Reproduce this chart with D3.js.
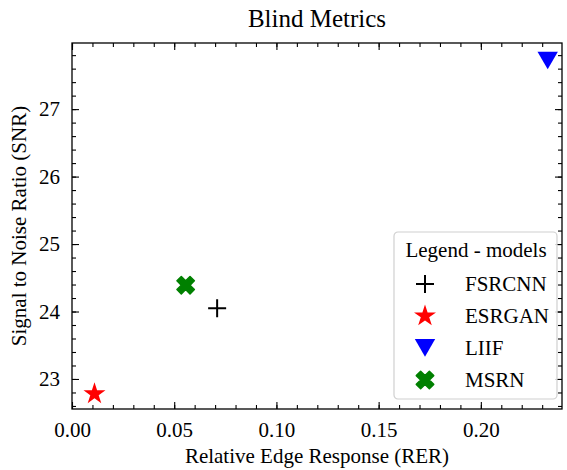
<!DOCTYPE html>
<html>
<head>
<meta charset="utf-8">
<script src="https://cdn.jsdelivr.net/npm/d3@7"></script>
<style>
  body { margin: 0; background: #fff; }
  text { font-family: "Liberation Serif", "Times New Roman", serif; fill: #000; }
</style>
</head>
<body>
<div id="chart"></div>
<script>
// data
const models = ["FSRCNN", "ESRGAN", "LIIF", "MSRN"];
const rer = [0.071, 0.011, 0.2327, 0.0556];
const snr = [24.05, 22.78, 27.72, 24.39];
const xTicks = [0.00, 0.05, 0.10, 0.15, 0.20];
const yTicks = [23, 24, 25, 26, 27];

const colors = {FSRCNN: "#000", ESRGAN: "red", LIIF: "blue", MSRN: "green"};

var width = 567, height = 470;
var margin = {top: 43, right: 5, bottom: 61, left: 72};
var w = width - margin.left - margin.right,
    h = height - margin.top - margin.bottom;

var svg = d3.select("#chart").append("svg")
  .attr("width", width).attr("height", height);

var g = svg.append("g")
  .attr("transform", "translate(" + margin.left + "," + margin.top + ")");

var x = d3.scaleLinear().domain([0, 0.2397]).range([0, w]);
var y = d3.scaleLinear().domain([22.555, 27.98]).range([h, 0]);

var xMinor = d3.range(0, 0.24, 0.01).map(v => +v.toFixed(2));
var yMinor = d3.range(22.6, 28.0, 0.2).map(v => +v.toFixed(1));

function tickStyle(sel) {
  sel.select(".domain").remove();
  sel.selectAll("line").attr("stroke", "#000").attr("stroke-width", 1.1);
}

// bottom
g.append("g").attr("transform", "translate(0," + h + ")")
  .call(d3.axisBottom(x).tickValues(xMinor).tickSize(-4).tickFormat(""))
  .call(tickStyle);
g.append("g").attr("transform", "translate(0," + h + ")")
  .call(d3.axisBottom(x).tickValues(xTicks).tickSize(-7).tickPadding(13).tickFormat(d3.format(".2f")))
  .call(tickStyle)
  .selectAll("text").style("font-size", "21px").attr("dy", "0.71em");
// top
g.append("g").call(d3.axisTop(x).tickValues(xMinor).tickSize(-4).tickFormat("")).call(tickStyle);
g.append("g").call(d3.axisTop(x).tickValues(xTicks).tickSize(-7).tickFormat("")).call(tickStyle);
// left
g.append("g").call(d3.axisLeft(y).tickValues(yMinor).tickSize(-4).tickFormat("")).call(tickStyle);
g.append("g")
  .call(d3.axisLeft(y).tickValues(yTicks).tickSize(-7).tickPadding(12).tickFormat(d3.format("d")))
  .call(tickStyle)
  .selectAll("text").style("font-size", "21px");
// right
g.append("g").attr("transform", "translate(" + w + ",0)")
  .call(d3.axisRight(y).tickValues(yMinor).tickSize(-4).tickFormat("")).call(tickStyle);
g.append("g").attr("transform", "translate(" + w + ",0)")
  .call(d3.axisRight(y).tickValues(yTicks).tickSize(-7).tickFormat("")).call(tickStyle);

// frame
g.append("rect").attr("width", w).attr("height", h)
  .attr("fill", "none").attr("stroke", "#000").attr("stroke-width", 1.3);

// marker shapes
function marker(sel, name) {
  var c = colors[name];
  if (name == "FSRCNN") {
    sel.append("path").attr("d", "M-9,0H9M0,-9V9")
      .attr("stroke", c).attr("stroke-width", 2).attr("fill", "none");
  } else if (name == "ESRGAN") {
    sel.append("path").attr("d", d3.symbol(d3.symbolStar, 150)()).attr("fill", c);
  } else if (name == "LIIF") {
    sel.append("path").attr("d", d3.symbol(d3.symbolTriangle, 180)())
      .attr("transform", "rotate(180) translate(0,3)").attr("fill", c);
  } else {
    sel.append("path").attr("d", d3.symbol(d3.symbolCross, 190)())
      .attr("transform", "rotate(45)").attr("fill", c)
      .attr("stroke", c).attr("stroke-width", 1.5).attr("stroke-linejoin", "round");
  }
}

models.forEach(function(m, i) {
  var p = g.append("g").attr("transform", "translate(" + x(rer[i]) + "," + y(snr[i]) + ")");
  marker(p, m);
});

// title and labels
svg.append("text").attr("x", margin.left + w / 2).attr("y", 27)
  .attr("text-anchor", "middle").style("font-size", "25px").text("Blind Metrics");
svg.append("text").attr("x", margin.left + w / 2).attr("y", 463)
  .attr("text-anchor", "middle").style("font-size", "21px").text("Relative Edge Response (RER)");
svg.append("text").attr("transform", "translate(26," + (margin.top + h / 2) + ") rotate(-90)")
  .attr("text-anchor", "middle").style("font-size", "21px").text("Signal to Noise Ratio (SNR)");

// legend
var lg = svg.append("g").attr("transform", "translate(394,232)");
lg.append("rect").attr("width", 163).attr("height", 167).attr("rx", 4)
  .attr("fill", "#fff").attr("fill-opacity", 0.85).attr("stroke", "#d0d0d0").attr("stroke-width", 1.2);
lg.append("text").attr("x", 82).attr("y", 25).attr("text-anchor", "middle")
  .style("font-size", "21px").text("Legend - models");
models.forEach(function(m, i) {
  var row = lg.append("g").attr("transform", "translate(31," + (52 + i * 32) + ")");
  marker(row, m);
  row.append("text").attr("x", 40).attr("dy", "0.35em").style("font-size", "21px").text(m);
});
</script>
</body>
</html>
